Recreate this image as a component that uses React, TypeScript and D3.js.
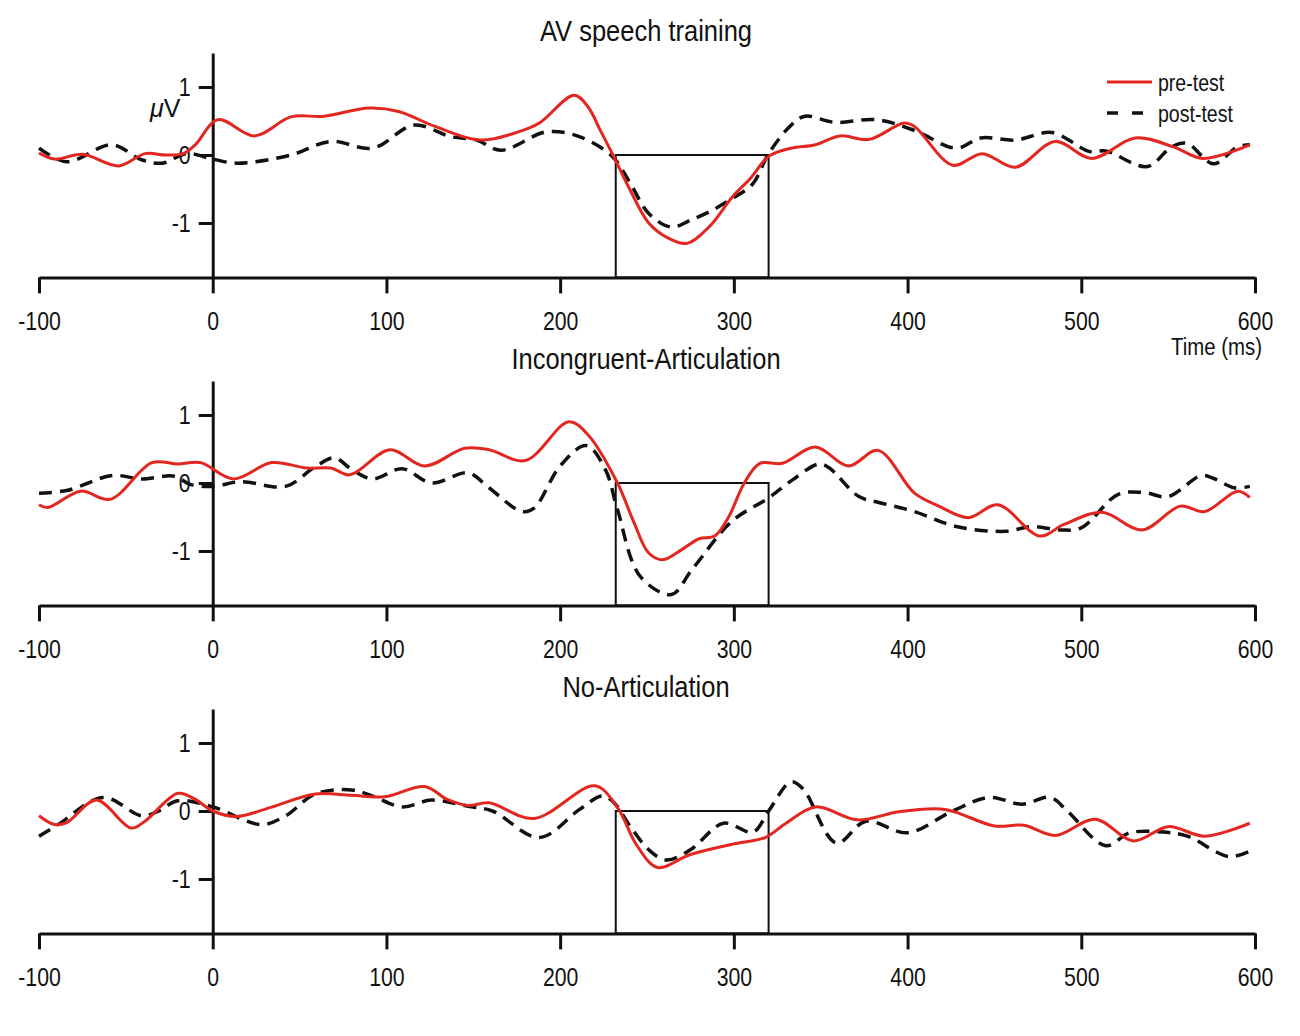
// @ts-nocheck
import React, { useEffect, useRef } from 'react';
import * as d3 from 'd3';

// time (ms), amplitude (µV)
const avPre = [[-100,0.03],[-91,-0.06],[-75,0.01],[-54,-0.16],[-39,0.02],[-27,0],[-17,0.02],[-10,0.15],[3,0.52],[24,0.28],[45,0.56],[64,0.57],[90,0.69],[107,0.64],[128,0.42],[154,0.22],[176,0.34],[188,0.47],[208,0.88],[216,0.71],[223,0.37],[230,0.02],[240,-0.5],[251,-1.0],[262,-1.22],[273,-1.3],[286,-1.05],[299,-0.62],[310,-0.33],[320,-0.02],[333,0.1],[347,0.15],[361,0.28],[378,0.23],[398,0.47],[404,0.42],[426,-0.15],[443,0.02],[462,-0.18],[485,0.2],[506,-0.05],[531,0.25],[553,0.12],[570,-0.05],[597,0.15]];
const avPost = [[-100,0.1],[-84,-0.1],[-58,0.15],[-41,-0.07],[-29,-0.12],[-15,0.02],[0,-0.06],[14,-0.12],[45,0],[68,0.2],[92,0.1],[116,0.44],[137,0.27],[152,0.22],[166,0.07],[192,0.34],[211,0.27],[230,-0.02],[240,-0.4],[251,-0.86],[264,-1.06],[275,-0.96],[287,-0.82],[299,-0.64],[311,-0.42],[320,0.02],[333,0.44],[341,0.57],[358,0.48],[382,0.52],[404,0.36],[428,0.1],[442,0.25],[462,0.22],[483,0.33],[505,0.05],[514,0.06],[538,-0.17],[552,0.12],[561,0.17],[576,-0.13],[590,0.12],[597,0.15]];

const incPre = [[-100,-0.32],[-95,-0.36],[-76,-0.12],[-59,-0.24],[-35,0.3],[-20,0.28],[-7,0.3],[12,0.06],[34,0.3],[54,0.22],[68,0.22],[79,0.12],[102,0.49],[122,0.25],[145,0.51],[159,0.49],[180,0.33],[205,0.9],[216,0.71],[233,0],[242,-0.55],[251,-1.03],[259,-1.13],[270,-0.98],[280,-0.82],[289,-0.78],[297,-0.5],[306,0],[315,0.29],[328,0.29],[347,0.53],[366,0.25],[383,0.48],[404,-0.15],[418,-0.34],[435,-0.51],[452,-0.32],[476,-0.78],[490,-0.61],[512,-0.43],[535,-0.69],[557,-0.34],[571,-0.42],[590,-0.12],[597,-0.21]];
const incPost = [[-100,-0.15],[-84,-0.11],[-58,0.11],[-41,0.06],[-22,0.1],[-13,-0.02],[0,-0.05],[16,0.02],[42,-0.05],[58,0.22],[70,0.37],[80,0.2],[92,0.06],[109,0.21],[126,0],[147,0.15],[159,-0.07],[178,-0.42],[185,-0.37],[200,0.25],[215,0.55],[226,0.2],[233,-0.39],[246,-1.37],[264,-1.64],[276,-1.27],[299,-0.56],[320,-0.22],[334,0.05],[349,0.28],[355,0.22],[372,-0.2],[384,-0.29],[404,-0.42],[428,-0.64],[457,-0.71],[471,-0.64],[488,-0.69],[500,-0.66],[521,-0.17],[536,-0.14],[550,-0.2],[569,0.11],[576,0.07],[588,-0.07],[597,-0.05]];

const noPre = [[-100,-0.07],[-91,-0.2],[-84,-0.17],[-67,0.16],[-47,-0.25],[-39,-0.15],[-20,0.26],[-10,0.17],[0,0],[14,-0.08],[33,0.05],[59,0.25],[80,0.23],[99,0.21],[122,0.36],[135,0.17],[147,0.08],[159,0.12],[185,-0.11],[220,0.37],[233,0.05],[244,-0.5],[256,-0.83],[275,-0.64],[299,-0.49],[318,-0.39],[330,-0.18],[347,0.06],[371,-0.13],[395,-0.01],[419,0.03],[428,-0.02],[450,-0.22],[467,-0.21],[485,-0.36],[508,-0.12],[530,-0.44],[550,-0.23],[571,-0.37],[597,-0.18]];
const noPost = [[-100,-0.37],[-89,-0.2],[-63,0.2],[-41,-0.07],[-32,-0.01],[-20,0.15],[0,0.06],[28,-0.2],[42,-0.07],[59,0.25],[80,0.31],[92,0.22],[109,0.06],[126,0.16],[147,0.07],[161,0],[188,-0.39],[211,0.02],[224,0.22],[230,0.15],[241,-0.25],[251,-0.57],[261,-0.72],[275,-0.57],[294,-0.18],[311,-0.31],[320,0],[333,0.43],[340,0.32],[359,-0.47],[376,-0.15],[400,-0.32],[426,0],[447,0.2],[466,0.1],[482,0.2],[492,0],[514,-0.51],[528,-0.32],[547,-0.31],[561,-0.37],[585,-0.67],[597,-0.59]];

const titles = ['AV speech training', 'Incongruent-Articulation', 'No-Articulation'];
const xTicks = [-100, 0, 100, 200, 300, 400, 500, 600];
const yTicks = [-1, 0, 1];
const windowMs = [232, 320];
const legendLabels = ['pre-test', 'post-test'];

const RED = '#e3261f';
const FONT = '"Liberation Sans", Arial, sans-serif';
const SQUEEZE = 'scale(0.85,1)'; // the figure uses a condensed face

// plain hyphen for negatives, like the original
const fmt = d => String(d);

export default function App() {
  const ref = useRef(null);

  useEffect(() => {
    const svg = d3.select(ref.current);
    svg.selectAll('*').remove();

    const x = d3.scaleLinear().domain([-100, 600]).range([39, 1255]);
    const panels = [
      { pre: avPre, post: avPost, zero: 155 },
      { pre: incPre, post: incPost, zero: 483 },
      { pre: noPre, post: noPost, zero: 811 },
    ];

    const label = (g, tx, ty, size, anchor, txt) =>
      g.append('text')
        .attr('transform', `translate(${tx},${ty}) ${SQUEEZE}`)
        .attr('text-anchor', anchor)
        .attr('font-family', FONT).attr('font-size', size).attr('fill', '#111')
        .text(txt);

    panels.forEach((p, i) => {
      const y = d3.scaleLinear().domain([-1.8, 1.5]).range([p.zero + 1.8 * 68, p.zero - 1.5 * 68]);
      const g = svg.append('g');

      label(g, 646, y(1.5) - 12, 30, 'middle', titles[i]);

      // analysis window
      g.append('rect')
        .attr('x', x(windowMs[0])).attr('y', y(0))
        .attr('width', x(windowMs[1]) - x(windowMs[0]))
        .attr('height', y(-1.8) - y(0))
        .attr('fill', 'none').attr('stroke', '#111').attr('stroke-width', 2);

      const xAxis = g.append('g')
        .attr('transform', `translate(0,${y(-1.8)})`)
        .call(d3.axisBottom(x).tickValues(xTicks).tickFormat(fmt).tickSize(16).tickSizeOuter(0).tickPadding(19));
      xAxis.select('.domain').attr('stroke-width', 3).attr('stroke', '#111');
      xAxis.selectAll('.tick line').attr('stroke-width', 3).attr('stroke', '#111');
      xAxis.selectAll('.tick text')
        .attr('font-family', FONT).attr('font-size', 25).attr('fill', '#111')
        .attr('transform', SQUEEZE);

      const yAxis = g.append('g')
        .attr('transform', `translate(${x(0)},0)`)
        .call(d3.axisLeft(y).tickValues(yTicks).tickFormat(fmt).tickSize(14).tickSizeOuter(0).tickPadding(12));
      yAxis.select('.domain').attr('stroke-width', 3).attr('stroke', '#111');
      yAxis.selectAll('.tick line').attr('stroke-width', 3).attr('stroke', '#111');
      yAxis.selectAll('.tick text')
        .attr('font-family', FONT).attr('font-size', 25).attr('fill', '#111')
        .attr('transform', SQUEEZE);

      const line = d3.line()
        .curve(d3.curveCatmullRom.alpha(0.5))
        .x(d => x(d[0]))
        .y(d => y(d[1]));

      g.append('path')
        .datum(p.post)
        .attr('fill', 'none').attr('stroke', '#111')
        .attr('stroke-width', 3.5).attr('stroke-dasharray', '13,8')
        .attr('d', line);

      g.append('path')
        .datum(p.pre)
        .attr('fill', 'none').attr('stroke', RED)
        .attr('stroke-width', 3)
        .attr('d', line);

      if (i === 0) {
        g.append('text')
          .attr('x', 150).attr('y', 117)
          .attr('font-family', FONT).attr('font-size', 25).attr('fill', '#111')
          .html('<tspan font-style="italic">μ</tspan>V');

        label(g, 1262, 355, 24, 'end', 'Time (ms)');

        // legend
        const lg = g.append('g');
        lg.append('line')
          .attr('x1', 1107).attr('x2', 1152).attr('y1', 82).attr('y2', 82)
          .attr('stroke', RED).attr('stroke-width', 3);
        lg.append('line')
          .attr('x1', 1107).attr('x2', 1152).attr('y1', 113).attr('y2', 113)
          .attr('stroke', '#111').attr('stroke-width', 3.5).attr('stroke-dasharray', '11,14');
        legendLabels.forEach((t, k) => label(lg, 1158, 91 + k * 31, 23, 'start', t));
      }
    });
  }, []);

  return (
    <svg ref={ref} width={1300} height={1036}
      style={{ position: 'absolute', left: 0, top: 0, background: '#fff' }} />
  );
}
